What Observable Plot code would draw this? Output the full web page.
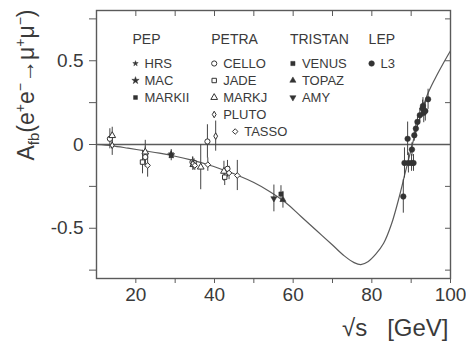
<!DOCTYPE html>
<html><head><meta charset="utf-8">
<script src="https://cdn.jsdelivr.net/npm/d3@7"></script>
<script src="https://cdn.jsdelivr.net/npm/@observablehq/plot@0.6"></script>
<style>
html,body{margin:0;padding:0;background:#fff;}
#chart{width:466px;height:346px;}
</style></head><body><div id="chart"></div>
<script>
// ---- data ----
const expNames  = ["HRS","MAC","MARKII","CELLO","JADE","MARKJ","PLUTO","TASSO","VENUS","TOPAZ","AMY","L3"];
const expGroups = ["PEP","PEP","PEP","PETRA","PETRA","PETRA","PETRA","PETRA","TRISTAN","TRISTAN","TRISTAN","LEP"];
const groupNames = ["PEP","PETRA","TRISTAN","LEP"];

const pointExp = [
  "HRS","MAC","MARKII",
  "CELLO","CELLO","CELLO","CELLO","CELLO",
  "JADE","JADE","JADE",
  "MARKJ","MARKJ","MARKJ","MARKJ","MARKJ",
  "PLUTO","PLUTO","PLUTO",
  "TASSO","TASSO","TASSO","TASSO","TASSO",
  "VENUS","TOPAZ","AMY",
  "L3","L3","L3","L3","L3","L3","L3","L3","L3","L3","L3","L3","L3","L3","L3","L3"
];
const pointEnergy = [
  29.0, 29.0, 29.0,
  13.4, 22.4, 34.4, 38.2, 43.3,
  21.7, 34.8, 42.6,
  14.0, 22.4, 34.6, 36.5, 42.4,
  14.0, 34.5, 40.3,
  23.0, 35.0, 38.3, 43.7, 45.8,
  56.9, 57.4, 55.1,
  88.0, 88.3, 89.1, 89.3, 90.1, 90.6, 90.2, 90.8, 91.2, 91.6, 92.2, 92.9, 93.2, 93.6, 94.3, 93.0
];
const pointAfb = [
  -0.055, -0.062, -0.067,
  0.034, -0.075, -0.105, 0.018, -0.145,
  -0.105, -0.11, -0.195,
  0.053, -0.045, -0.12, -0.135, -0.16,
  -0.005, -0.115, 0.05,
  -0.125, -0.125, -0.12, -0.17, -0.185,
  -0.296, -0.33, -0.322,
  -0.31, -0.11, 0.034, -0.11, -0.11, -0.11, -0.03, 0.055, 0.095, 0.135, 0.175, 0.215, 0.19, 0.2, 0.27, 0.23
];
const pointErr = [
  0.025, 0.02, 0.03,
  0.06, 0.06, 0.03, 0.1, 0.05,
  0.07, 0.025, 0.05,
  0.05, 0.07, 0.03, 0.135, 0.06,
  0.06, 0.04, 0.09,
  0.07, 0.03, 0.04, 0.04, 0.09,
  0.05, 0.05, 0.08,
  0.1, 0.09, 0.1, 0.06, 0.05, 0.05, 0.04, 0.035, 0.03, 0.03, 0.04, 0.05, 0.06, 0.06, 0.06, 0.05
];

const curveEnergy = [10, 14, 18, 22, 26, 30, 34, 38, 42, 46, 50, 54, 58, 62, 66, 70, 73, 75.5, 77.2, 79, 81, 83, 85, 87, 88.5, 89.5, 90.3, 91.3, 92.5, 94, 96, 98, 100];
const curveAfb = [0, -0.008, -0.022, -0.037, -0.052, -0.07, -0.092, -0.118, -0.15, -0.185, -0.227, -0.28, -0.345, -0.43, -0.515, -0.6, -0.665, -0.705, -0.717, -0.7, -0.655, -0.59, -0.475, -0.31, -0.167, -0.075, 0, 0.09, 0.18, 0.29, 0.39, 0.478, 0.56];

const xTicks = [20, 40, 60, 80, 100];
const xMinorTicks = [30, 50, 70, 90];
const xTopTicks = [20, 30, 40, 50, 60, 70, 80, 90, 100];
const yTicks = [-0.5, 0, 0.5];
const yMinorTicks = [-0.75, -0.25, 0.25, 0.75];
const yAllTicks = [-0.75, -0.5, -0.25, 0, 0.25, 0.5, 0.75];

// ---- build ----
const points = pointExp.map((e, i) => ({exp: e, x: pointEnergy[i], y: pointAfb[i], err: pointErr[i]}));
const curve = curveEnergy.map((x, i) => ({x, y: curveAfb[i]}));

const ink = "#333";
const textInk = "#3a3a3a";
const lineInk = "#5a5a5a";
const styles = {
  HRS:    {symbol: "star",     filled: true,  r: 1.7},
  MAC:    {symbol: "star",     filled: true,  r: 2.3},
  MARKII: {symbol: "square",   filled: true,  r: 2.2},
  CELLO:  {symbol: "circle",   filled: false, r: 2.6},
  JADE:   {symbol: "square",   filled: false, r: 2.5},
  MARKJ:  {symbol: "triangle", filled: false, r: 2.5},
  PLUTO:  {symbol: "diamond",  filled: false, r: 2.0},
  TASSO:  {symbol: "diamond2", filled: false, r: 2.5},
  VENUS:  {symbol: "square",   filled: true,  r: 2.4},
  TOPAZ:  {symbol: "triangle", filled: true,  r: 2.3},
  AMY:    {symbol: "triangle", filled: true,  r: 2.3, rotate: 180},
  L3:     {symbol: "circle",   filled: true,  r: 2.8}
};
const dotStyle = (name) => {
  const s = styles[name];
  return {symbol: s.symbol, r: s.r, fill: s.filled ? ink : "white", stroke: ink,
          strokeWidth: s.filled ? 0.5 : 1.0, rotate: s.rotate || 0};
};

const marks = [
  Plot.ruleY([0], {stroke: lineInk, strokeWidth: 1.3}),
  Plot.line(curve, {x: "x", y: "y", curve: "catmull-rom", stroke: lineInk, strokeWidth: 1.2}),
  Plot.ruleX(points, {x: "x", y1: d => d.y - d.err, y2: d => d.y + d.err, stroke: "#444", strokeWidth: 1}),
  ...expNames.map(name => Plot.dot(points.filter(d => d.exp === name), {x: "x", y: "y", ...dotStyle(name)})),
  Plot.frame({stroke: lineInk, strokeWidth: 1.4}),
  Plot.axisX({ticks: xTicks, tickSize: 5, tickPadding: 4, fontSize: 19, stroke: lineInk, fill: textInk, label: null}),
  Plot.axisX({ticks: xMinorTicks, tickSize: 5, fill: "none", stroke: lineInk, label: null}),
  Plot.axisX({anchor: "top", ticks: xTopTicks, tickSize: -5, fill: "none", stroke: lineInk, label: null}),
  Plot.axisY({ticks: yTicks, tickSize: 7, tickPadding: 6, fontSize: 19, stroke: lineInk, fill: textInk,
              tickFormat: d => String(d), label: null}),
  Plot.axisY({ticks: yMinorTicks, tickSize: 7, fill: "none", stroke: lineInk, label: null}),
  Plot.axisY({anchor: "right", ticks: yAllTicks, tickSize: -6, fill: "none", stroke: lineInk, label: null}),
  Plot.text(["√s\u00a0\u00a0\u00a0[GeV]"], {frameAnchor: "bottom-right", text: d => d, dx: -2, dy: 50,
              textAnchor: "end", lineAnchor: "middle", fontSize: 24, fill: textInk})
];

// legend (inside plot frame)
const colStep = 78.7, col0 = 39, headerDy = 29, row0 = 53, rowStep = 17;
groupNames.forEach((g, gi) => {
  const cx = col0 + gi * colStep;
  marks.push(Plot.text([g], {frameAnchor: "top-left", text: d => d, dx: cx - 3, dy: headerDy,
    textAnchor: "start", lineAnchor: "middle", fontSize: 14, fill: textInk}));
  const members = expNames.filter((n, i) => expGroups[i] === g);
  members.forEach((name, row) => {
    const indent = name === "TASSO" ? 21 : 0;
    const dy = row0 + row * rowStep;
    marks.push(Plot.dot([name], {frameAnchor: "top-left", dx: cx + indent, dy, ...dotStyle(name)}));
    marks.push(Plot.text([name], {frameAnchor: "top-left", text: d => d, dx: cx + indent + 9, dy,
      textAnchor: "start", lineAnchor: "middle", fontSize: 13, fill: textInk}));
  });
});

const plot = Plot.plot({
  width: 466, height: 346,
  marginLeft: 96, marginRight: 16, marginTop: 10, marginBottom: 68,
  x: {domain: [10, 100]},
  y: {domain: [-0.8, 0.8]},
  style: {fontFamily: "'Liberation Sans', Arial, Helvetica, sans-serif", background: "white", color: textInk},
  marks
});

// y-axis title with sub/superscripts
const svg = d3.select(plot);
const t = svg.append("text")
  .attr("transform", "translate(34,85) rotate(-90)")
  .attr("text-anchor", "middle")
  .attr("font-size", 23)
  .attr("fill", textInk);
t.append("tspan").text("A");
t.append("tspan").attr("font-size", 15).attr("dy", 5).text("fb");
t.append("tspan").attr("dy", -5).text("(e");
t.append("tspan").attr("font-size", 14).attr("dy", -9).text("+");
t.append("tspan").attr("dy", 9).text("e");
t.append("tspan").attr("font-size", 14).attr("dy", -9).text("−");
t.append("tspan").attr("dy", 9).text("→μ");
t.append("tspan").attr("font-size", 14).attr("dy", -9).text("+");
t.append("tspan").attr("dy", 9).text("μ");
t.append("tspan").attr("font-size", 14).attr("dy", -9).text("−");
t.append("tspan").attr("dy", 9).text(")");

document.getElementById("chart").appendChild(plot);
</script>
</body></html>
